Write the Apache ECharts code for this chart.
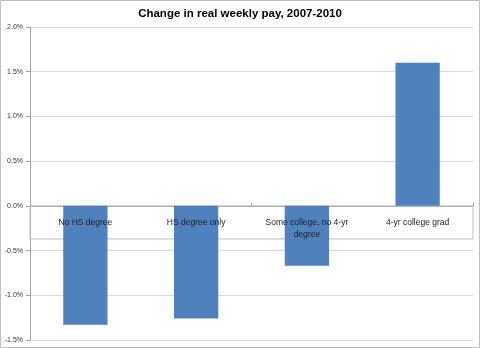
<!DOCTYPE html>
<html><head><meta charset="utf-8">
<script src="https://cdn.jsdelivr.net/npm/echarts@6/dist/echarts.min.js"></script>
<style>html,body{margin:0;padding:0;background:#fff}#c{width:480px;height:348px}</style>
</head><body><div id="c"></div>
<script>
const categories = ['No HS degree', 'HS degree only', 'Some college, no 4-yr\ndegree', '4-yr college grad'];
const payChange = [-1.33, -1.26, -0.67, 1.60];
const yTicks = { min: -1.5, max: 2.0, interval: 0.5 };
const labelBoxBottom = -0.37;
const titleText = 'Change in real weekly pay, 2007-2010';

const chart = echarts.init(document.getElementById('c'), null, {renderer: 'canvas'});
chart.setOption({
  animation: false,
  backgroundColor: '#fff',
  title: {
    text: titleText, left: 'center', top: 3,
    textStyle: {fontFamily: 'Liberation Sans Narrow, Liberation Sans, sans-serif', fontWeight: 'bold', fontSize: 11.5, color: '#000'}
  },
  graphic: [{type: 'rect', shape: {x: 0.5, y: 0.5, width: 479, height: 347}, style: {fill: 'none', stroke: '#c0c0c0', lineWidth: 1}, silent: true}],
  grid: {left: 30, right: 7, top: 27, bottom: 8, containLabel: false, outerBoundsMode: 'none'},
  xAxis: {
    type: 'category', data: categories,
    axisLine: {onZero: true, lineStyle: {color: '#a6a6a6'}},
    axisTick: {show: true, alignWithLabel: false, length: 3, inside: true, lineStyle: {color: '#a6a6a6'}},
    axisLabel: {show: false}
  },
  yAxis: {
    type: 'value', min: yTicks.min, max: yTicks.max, interval: yTicks.interval,
    axisLine: {show: true, lineStyle: {color: '#a6a6a6'}},
    axisTick: {show: true, length: 4, lineStyle: {color: '#a6a6a6'}},
    splitLine: {lineStyle: {color: '#d9d9d9'}},
    axisLabel: {fontSize: 7, color: '#333', margin: 7, fontFamily: 'Liberation Sans, sans-serif', formatter: v => v.toFixed(1) + '%'}
  },
  series: [{
    type: 'bar', data: payChange, barWidth: '40%',
    itemStyle: {color: '#4F81BD'},
    markArea: {
      silent: true,
      itemStyle: {color: 'rgba(0,0,0,0)', borderColor: '#bfbfbf', borderWidth: 1},
      data: [[{yAxis: 0}, {yAxis: labelBoxBottom}]]
    }
  }, {
    type: 'bar', data: categories.map(() => 0), barWidth: '40%', barGap: '-100%', z: 5,
    itemStyle: {color: 'rgba(0,0,0,0)'},
    label: {
      show: true, position: 'bottom', distance: 11, formatter: p => p.name,
      fontSize: 8.5, lineHeight: 12, color: '#222', align: 'center',
      fontFamily: 'Liberation Sans Narrow, Liberation Sans, sans-serif'
    },
    tooltip: {show: false}
  }]
});
</script></body></html>
